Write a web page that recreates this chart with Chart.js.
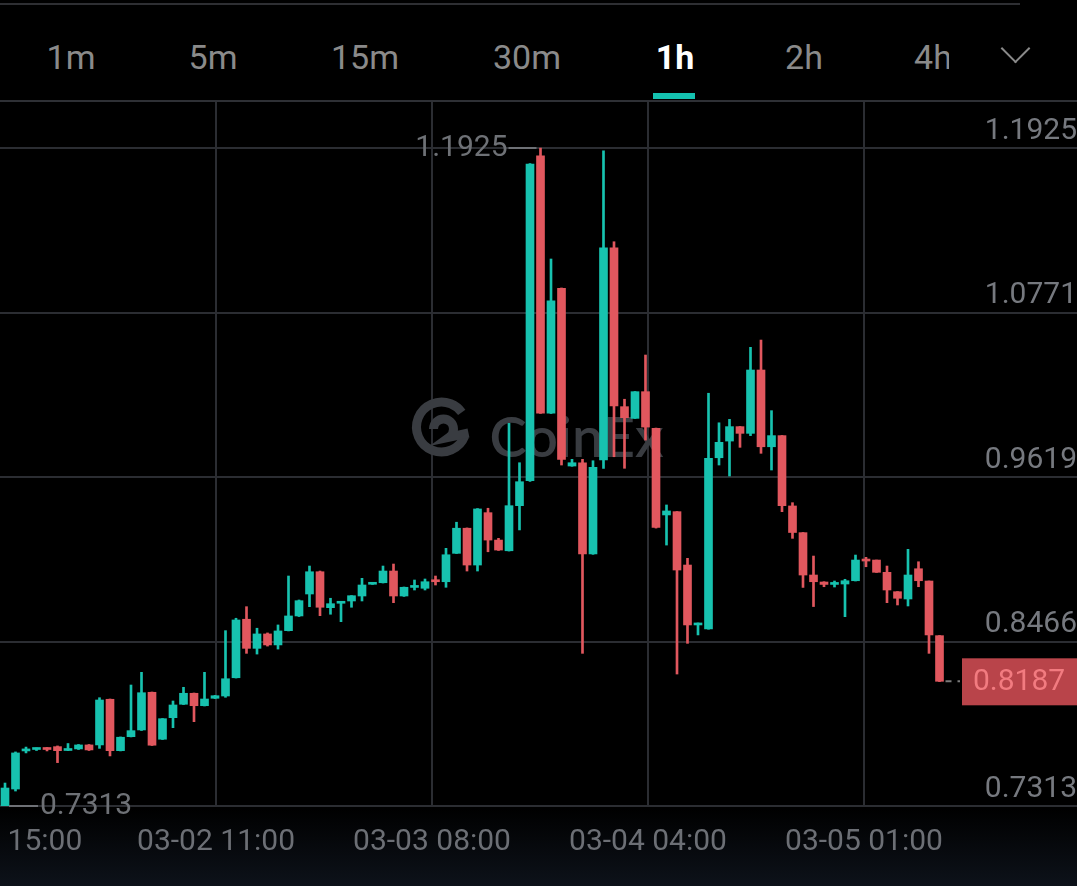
<!DOCTYPE html>
<html>
<head>
<meta charset="utf-8">
<script src="https://cdn.jsdelivr.net/npm/chart.js@4.4.1/dist/chart.umd.min.js"></script>
<style>
  html, body { margin: 0; padding: 0; background: #000; }
  body { width: 1077px; height: 886px; position: relative; overflow: hidden; font-family: Roboto, sans-serif; }
  #topline { position: absolute; left: 0; top: 3px; width: 1020px; height: 2px; background: #2e2f33; }
  #tabs { position: absolute; left: 0; top: 0; width: 949px; height: 100px; overflow: hidden; }
  .tab { position: absolute; top: 37px; font-size: 34px; line-height: 40px; color: #8a8a8a; transform: translateX(-50%); white-space: nowrap; }
  .tab.active { color: #fff; font-weight: 700; }
  #underline { position: absolute; left: 653px; top: 93px; width: 42px; height: 6px; background: #14c2b0; }
  #chev { position: absolute; left: 1005px; top: 38px; width: 21px; height: 21px; box-sizing: border-box;
          border-right: 2.5px solid #8a8a8a; border-bottom: 2.5px solid #8a8a8a; transform: rotate(45deg); }
  #sep { position: absolute; left: 0; top: 100px; width: 1077px; height: 2px; background: #2e3035; }
  #shade { position: absolute; left: 0; top: 808px; width: 1077px; height: 78px; background: linear-gradient(#000, #0d121a); }
  #chart { position: absolute; left: 0; top: 0; }
</style>
</head>
<body>
<div id="shade"></div>
<div id="topline"></div>
<div id="tabs"></div>
<div id="underline"></div>
<div id="chev"></div>
<div id="sep"></div>
<canvas id="chart" width="1077" height="886"></canvas>
<script>
// candles, 1h, oldest first
const opens = [
    0.7315, 0.7432, 0.7699, 0.7709, 0.7720, 0.7729, 0.7702, 0.7713, 0.7741, 0.7741,
    0.8061, 0.7701, 0.7799, 0.7846, 0.8110, 0.7781, 0.7932, 0.8026, 0.8103, 0.8016,
    0.8068, 0.8084, 0.8212, 0.8622, 0.8418, 0.8519, 0.8442, 0.8542, 0.8645, 0.8799,
    0.8955, 0.8703, 0.8734, 0.8750, 0.8785, 0.8867, 0.8878, 0.8960, 0.8785, 0.8845,
    0.8839, 0.8892, 0.8885, 0.9084, 0.9260, 0.9002, 0.9369, 0.9177, 0.9102, 0.9418,
    0.9593, 1.1871, 1.0066, 1.0942, 0.9696, 0.9719, 0.9079, 0.9738, 1.1226, 1.0112,
    1.0030, 1.0217, 0.9960, 0.9353, 0.9376, 0.9002, 0.8582, 0.8554, 0.9754, 0.9871,
    0.9972, 0.9925, 1.0369, 0.9831, 0.9909, 0.9416, 0.9229, 0.8932, 0.8883, 0.8866,
    0.8869, 0.8892, 0.9037, 0.9037, 0.8951, 0.8815, 0.8764, 0.8976, 0.8890, 0.8507,
];
const highs = [
    0.7474, 0.7692, 0.7726, 0.7720, 0.7723, 0.7734, 0.7751, 0.7744, 0.7744, 0.8072,
    0.8063, 0.7797, 0.8161, 0.8250, 0.8112, 0.7926, 0.8049, 0.8145, 0.8105, 0.8250,
    0.8088, 0.8542, 0.8629, 0.8710, 0.8559, 0.8526, 0.8582, 0.8925, 0.8757, 0.8995,
    0.8960, 0.8769, 0.8746, 0.8788, 0.8909, 0.8876, 0.8995, 0.9009, 0.8848, 0.8897,
    0.8904, 0.8925, 0.9119, 0.9302, 0.9262, 0.9398, 0.9400, 0.9189, 0.9995, 0.9719,
    1.1816, 1.1925, 1.1147, 1.0944, 0.9743, 0.9743, 0.9733, 1.1906, 1.1268, 1.0164,
    1.0218, 1.0474, 0.9962, 0.9423, 0.9377, 0.9049, 0.8596, 1.0206, 0.9999, 1.0023,
    0.9973, 1.0528, 1.0579, 1.0084, 0.9910, 0.9439, 0.9230, 0.9065, 0.8885, 0.8890,
    0.8902, 0.9072, 0.9056, 0.9037, 0.8995, 0.8816, 0.9112, 0.9025, 0.8890, 0.8508,
];
const lows = [
    0.7313, 0.7418, 0.7685, 0.7702, 0.7699, 0.7617, 0.7701, 0.7709, 0.7702, 0.7717,
    0.7664, 0.7699, 0.7797, 0.7842, 0.7737, 0.7779, 0.7862, 0.8024, 0.7904, 0.8014,
    0.8066, 0.8075, 0.8210, 0.8383, 0.8378, 0.8434, 0.8413, 0.8540, 0.8641, 0.8710,
    0.8647, 0.8657, 0.8605, 0.8706, 0.8750, 0.8866, 0.8876, 0.8738, 0.8782, 0.8827,
    0.8827, 0.8862, 0.8846, 0.9083, 0.8960, 0.8960, 0.9095, 0.9104, 0.9100, 0.9248,
    0.9588, 1.0064, 1.0064, 0.9703, 0.9694, 0.8383, 0.9077, 0.9680, 0.9761, 0.9680,
    1.0029, 0.9878, 0.9261, 0.9142, 0.8238, 0.8453, 0.8512, 0.8552, 0.9703, 0.9626,
    0.9827, 0.9909, 0.9785, 0.9668, 0.9376, 0.9189, 0.8845, 0.8711, 0.8850, 0.8848,
    0.8640, 0.8890, 0.8990, 0.8950, 0.8738, 0.8722, 0.8715, 0.8850, 0.8383, 0.8185,
];
const closes = [
    0.7439, 0.7685, 0.7713, 0.7716, 0.7709, 0.7701, 0.7709, 0.7741, 0.7706, 0.8056,
    0.7701, 0.7795, 0.7841, 0.8107, 0.7739, 0.7925, 0.8021, 0.8103, 0.8016, 0.8063,
    0.8086, 0.8205, 0.8617, 0.8418, 0.8519, 0.8442, 0.8540, 0.8645, 0.8752, 0.8955,
    0.8706, 0.8731, 0.8745, 0.8787, 0.8862, 0.8874, 0.8960, 0.8785, 0.8846, 0.8852,
    0.8885, 0.8885, 0.9074, 0.9260, 0.9002, 0.9395, 0.9177, 0.9107, 0.9418, 0.9586,
    1.1813, 1.0066, 1.0853, 0.9743, 0.9719, 0.9079, 0.9687, 1.1226, 1.0117, 1.0035,
    1.0217, 0.9969, 0.9266, 0.9381, 0.8967, 0.8582, 0.8594, 0.9750, 0.9862, 0.9972,
    0.9925, 1.0369, 0.9831, 0.9909, 0.9418, 0.9230, 0.8932, 0.8885, 0.8866, 0.8871,
    0.8892, 0.9037, 0.9030, 0.8951, 0.8827, 0.8769, 0.8932, 0.8892, 0.8512, 0.8187,
];

// axis labels
const timeLabels = ["15:00", "03-02 11:00", "03-03 08:00", "03-04 04:00", "03-05 01:00"];
const timeTickAt = [3.8, 20.1, 40.67, 61.24, 81.81]; // candle index where each label sits
const priceTicks = [0.7313, 0.8466, 0.9619, 1.0771, 1.1925];
const tabs = ["1m", "5m", "15m", "30m", "1h", "2h", "4h"];
const activeTab = "1h";

const UP = "#17c2af";
const DOWN = "#e1575e";
const GRID = "#2b2d32";

// tab bar
const tabCenters = [71, 213, 365, 527, 675, 804, 933];
const tabBox = document.getElementById("tabs");
tabs.forEach((t, i) => {
    const d = document.createElement("div");
    d.className = "tab" + (t === activeTab ? " active" : "");
    d.style.left = tabCenters[i] + "px";
    d.textContent = t;
    tabBox.appendChild(d);
});

const step = 10.5; // px per candle
const firstX = 5;
const W = 1077;
const xMin = -firstX / step;
const xMax = xMin + W / step;

const colorOf = (i) => (closes[i] >= opens[i] ? UP : DOWN);

const bodies = opens.map((o, i) => ({ x: i, y: [Math.min(o, closes[i]), Math.max(o, closes[i])] }));
const wicks = opens.map((o, i) => ({ x: i, y: [lows[i], highs[i]] }));

// CoinEx watermark behind the candles
const watermark = {
    id: "watermark",
    beforeDatasetsDraw(chart) {
        const { ctx, chartArea } = chart;
        const cx = (chartArea.left + chartArea.right) / 2;
        const cy = (chartArea.top + chartArea.bottom) / 2;
        const ix = cx - 97, iy = cy - 27;
        ctx.save();
        ctx.strokeStyle = "#393c41";
        ctx.fillStyle = "#393c41";
        ctx.lineWidth = 9;
        ctx.lineCap = "butt";
        ctx.beginPath();
        ctx.arc(ix, iy, 25, 0.12 * Math.PI, 1.8 * Math.PI);
        ctx.stroke();
        ctx.beginPath();
        ctx.arc(ix + 2, iy + 2, 10, 1.0 * Math.PI, 2.3 * Math.PI);
        ctx.lineTo(ix + 27, iy + 6);
        ctx.stroke();
        ctx.font = "600 56px Lato";
        ctx.textBaseline = "alphabetic";
        ctx.fillText("CoinEx", cx - 49, iy + 30);
        ctx.restore();
    },
};

// high / low markers and last price tag
const markers = {
    id: "markers",
    afterDatasetsDraw(chart) {
        const { ctx, chartArea } = chart;
        const xs = chart.scales.x, ys = chart.scales.y;
        let iMax = 0, iMin = 0;
        highs.forEach((h, i) => { if (h > highs[iMax]) iMax = i; });
        lows.forEach((l, i) => { if (l < lows[iMin]) iMin = i; });

        ctx.save();
        ctx.font = "30px Roboto";
        ctx.textBaseline = "middle";
        ctx.strokeStyle = "#6e7176";
        ctx.fillStyle = "#6e7176";
        ctx.lineWidth = 2;

        let px = xs.getPixelForValue(iMax), py = ys.getPixelForValue(highs[iMax]);
        ctx.beginPath();
        ctx.moveTo(px - 4, py);
        ctx.lineTo(px - 32, py);
        ctx.stroke();
        ctx.textAlign = "right";
        ctx.fillText(highs[iMax].toFixed(4), px - 33, py);

        px = xs.getPixelForValue(iMin); py = ys.getPixelForValue(lows[iMin]);
        ctx.beginPath();
        ctx.moveTo(px + 4, py);
        ctx.lineTo(px + 33, py);
        ctx.stroke();
        ctx.textAlign = "left";
        ctx.fillText(lows[iMin].toFixed(4), px + 35, py);

        const last = closes.length - 1;
        const lx = xs.getPixelForValue(last) + 6;
        const ly = ys.getPixelForValue(closes[last]);
        const boxL = chartArea.right - 115;
        ctx.setLineDash([6, 6]);
        ctx.strokeStyle = "#7a7a7a";
        ctx.beginPath();
        ctx.moveTo(lx, ly);
        ctx.lineTo(boxL - 2, ly);
        ctx.stroke();
        ctx.setLineDash([]);
        ctx.fillStyle = "#b9444a";
        ctx.fillRect(boxL, ly - 23, 115, 47);
        ctx.fillStyle = "#f27b80";
        ctx.textAlign = "center";
        ctx.fillText(closes[last].toFixed(4), boxL + 57, ly + 1);
        ctx.restore();
    },
};

new Chart(document.getElementById("chart").getContext("2d"), {
    type: "bar",
    data: {
        datasets: [
            {
                label: "body",
                data: bodies,
                backgroundColor: opens.map((o, i) => colorOf(i)),
                barThickness: 8,
                minBarLength: 2,
                grouped: false,
            },
            {
                label: "wick",
                data: wicks,
                backgroundColor: opens.map((o, i) => colorOf(i)),
                barThickness: 2,
                minBarLength: 2,
                grouped: false,
            },
        ],
    },
    options: {
        responsive: false,
        animation: false,
        events: [],
        layout: { padding: { top: 102, left: 0, right: 0, bottom: 0 } },
        plugins: {
            legend: { display: false },
            tooltip: { enabled: false },
        },
        scales: {
            x: {
                type: "linear",
                min: xMin,
                max: xMax,
                offset: false,
                afterBuildTicks: (axis) => {
                    axis.ticks = timeTickAt.map((v) => ({ value: v }));
                },
                afterFit: (axis) => {
                    axis.height = 80;
                    axis.paddingLeft = 0;
                    axis.paddingRight = 0;
                },
                grid: {
                    offset: false,
                    drawTicks: false,
                    lineWidth: 2,
                    color: (c) => (c.index === 0 ? "rgba(0,0,0,0)" : GRID),
                },
                border: { display: false },
                ticks: {
                    padding: 18,
                    autoSkip: false,
                    maxRotation: 0,
                    color: "#6c6f75",
                    font: { family: "Roboto", size: 30 },
                    callback: (v, i) => timeLabels[i],
                },
            },
            y: {
                type: "linear",
                position: "right",
                min: 0.7313,
                max: 0.7313 + (806 - 102) / 1426.7,
                afterBuildTicks: (axis) => {
                    axis.ticks = priceTicks.map((v) => ({ value: v }));
                },
                afterFit: (axis) => {
                    axis.width = 0;
                },
                grid: { drawTicks: false, lineWidth: 2, color: GRID },
                border: { display: false },
                ticks: {
                    mirror: true,
                    padding: 0,
                    labelOffset: -17,
                    color: "#76797f",
                    font: { family: "Roboto", size: 30 },
                    callback: (v) => v.toFixed(4),
                },
            },
        },
    },
    plugins: [watermark, markers],
});
</script>
</body>
</html>
